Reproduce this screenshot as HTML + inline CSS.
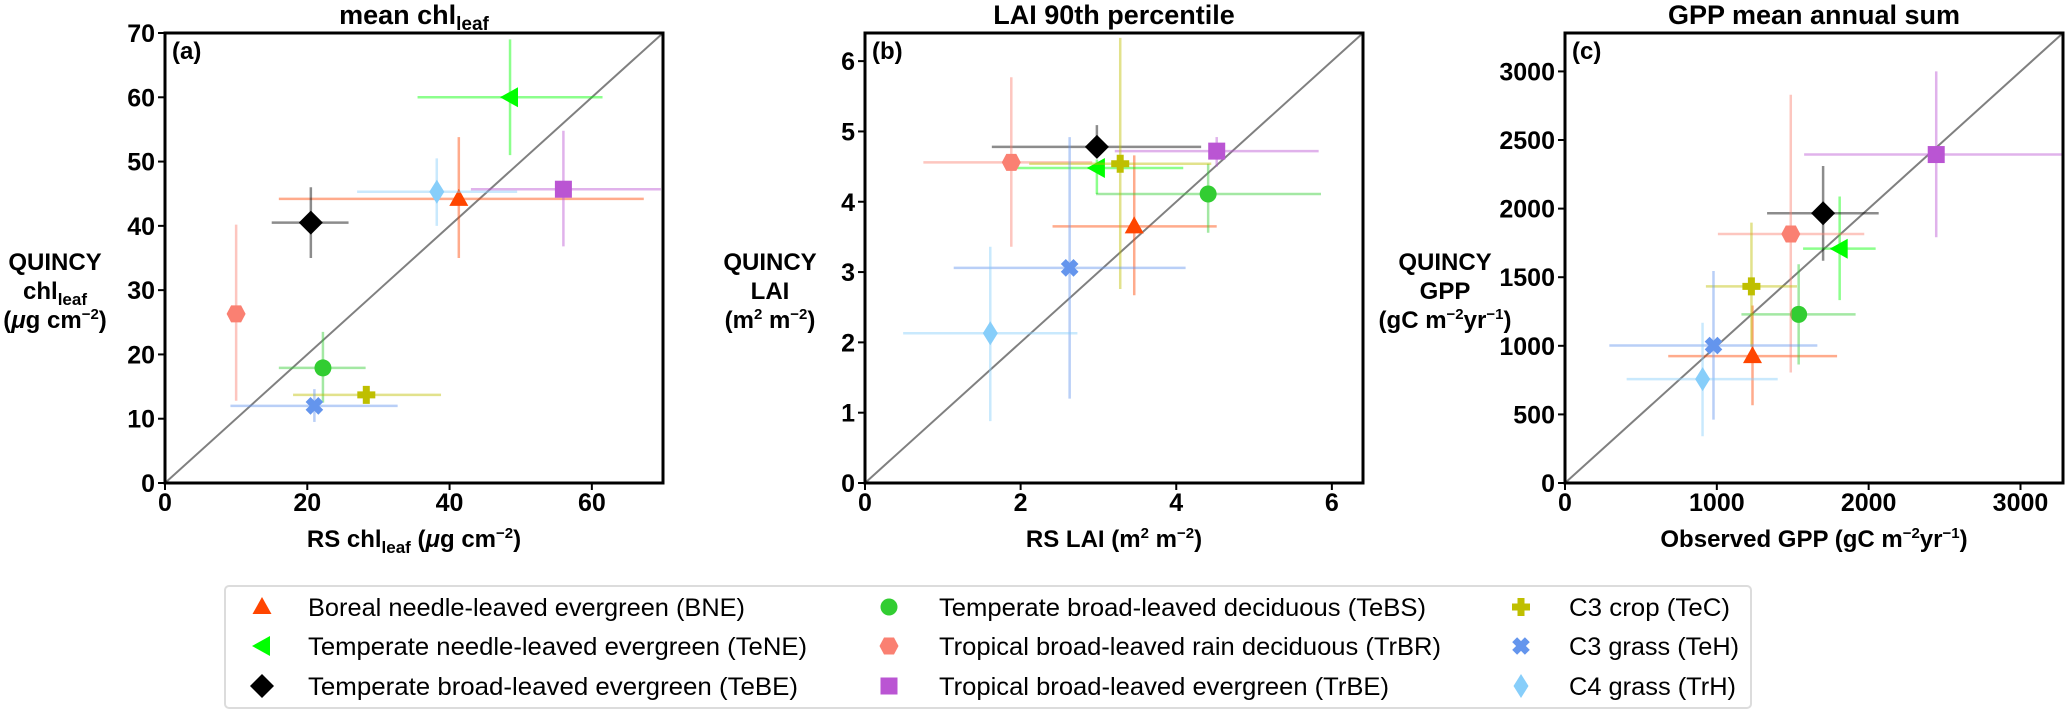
<!DOCTYPE html>
<html><head><meta charset="utf-8"><style>
html,body{margin:0;padding:0;background:#fff;}
svg{display:block;font-family:"Liberation Sans","DejaVu Sans",sans-serif;}
</style></head><body>
<svg id="fig" width="2067" height="711" viewBox="0 0 2067 711"></svg>
<script>
const NS='http://www.w3.org/2000/svg';
const fig=document.getElementById('fig');
// ---- data ----
const pfts=['BNE','TeNE','TeBE','TeBS','TrBR','TrBE','TeC','TeH','TrH'];
const pftLabels=['Boreal needle-leaved evergreen (BNE)','Temperate needle-leaved evergreen (TeNE)','Temperate broad-leaved evergreen (TeBE)','Temperate broad-leaved deciduous (TeBS)','Tropical broad-leaved rain deciduous (TrBR)','Tropical broad-leaved evergreen (TrBE)','C3 crop (TeC)','C3 grass (TeH)','C4 grass (TrH)'];
const colors=['#ff4500','#00ff00','#000000','#32cd32','#fa8072','#ba55d3','#bfbf00','#6495ed','#87cefa'];
const markers=['^','<','D','o','h','s','P','X','d'];
// panel a: chl
const chlX=[41.3,48.5,20.5,22.2,10.0,56.0,28.3,21.0,38.2];
const chlXlo=[16,35.5,15,16,10,43,18,9.2,27];
const chlXhi=[67.3,61.5,25.8,28.2,10,69.7,38.8,32.7,49.5];
const chlY=[44.2,60,40.5,17.9,26.3,45.7,13.7,12.0,45.3];
const chlYlo=[35,51,35,12.5,12.8,36.8,12.5,9.5,40];
const chlYhi=[53.8,69,46,23.5,40.2,54.8,14.9,14.6,50.5];
// panel b: LAI
const laiX=[3.46,2.98,2.98,4.41,1.88,4.52,3.28,2.63,1.61];
const laiXlo=[2.41,1.9,1.63,2.97,0.75,3.21,2.11,1.14,0.49];
const laiXhi=[4.52,4.09,4.32,5.86,2.92,5.83,4.45,4.12,2.73];
const laiY=[3.65,4.48,4.78,4.11,4.56,4.72,4.54,3.06,2.13];
const laiYlo=[2.67,4.11,4.63,3.56,3.36,4.5,2.76,1.2,0.88];
const laiYhi=[4.66,4.6,5.09,4.54,5.77,4.92,6.33,4.92,3.36];
// panel c: GPP
const gppX=[1235,1809,1700,1539,1487,2445,1228,978,906];
const gppXlo=[680,1568,1331,1162,1007,1575,928,292,406];
const gppXhi=[1792,2046,2066,1914,1971,3272,1528,1662,1401];
const gppY=[925,1708,1966,1229,1815,2394,1433,1002,757];
const gppYlo=[567,1333,1620,864,805,1791,993,462,341];
const gppYhi=[1294,2088,2311,1594,2830,3000,1898,1545,1168];
const chlTicks=[0,10,20,30,40,50,60,70], chlXTicks=[0,20,40,60];
const laiTicks=[0,1,2,3,4,5,6], laiXTicks=[0,2,4,6];
const gppTicks=[0,500,1000,1500,2000,2500,3000], gppXTicks=[0,1000,2000,3000];

function el(tag,attrs,parent){const e=document.createElementNS(NS,tag);for(const k in attrs)e.setAttribute(k,attrs[k]);(parent||fig).appendChild(e);return e;}

function marker(g,m,cx,cy,c){
  let e;const s=8.5;
  if(m==='o'){e=el('circle',{cx:cx,cy:cy,r:s,fill:c},g);}
  else if(m==='s'){e=el('rect',{x:cx-s,y:cy-s,width:2*s,height:2*s,fill:c},g);}
  else{
    let pts;
    if(m==='^')pts=[[0,-10],[9.5,7],[-9.5,7]];
    else if(m==='<')pts=[[-10,0],[8,-10],[8,10]];
    else if(m==='D')pts=[[0,-12],[12,0],[0,12],[-12,0]];
    else if(m==='d')pts=[[0,-12],[7.5,0],[0,12],[-7.5,0]];
    else if(m==='h')pts=[[-9.5,0],[-5,-8.5],[5,-8.5],[9.5,0],[5,8.5],[-5,8.5]];
    else if(m==='P'){const a=3.5,b=9;pts=[[-a,-b],[a,-b],[a,-a],[b,-a],[b,a],[a,a],[a,b],[-a,b],[-a,a],[-b,a],[-b,-a],[-a,-a]];}
    else if(m==='X'){const a=3.5,b=9;pts=[];const base=[[-a,-b],[a,-b],[a,-a],[b,-a],[b,a],[a,a],[a,b],[-a,b],[-a,a],[-b,a],[-b,-a],[-a,-a]];const r=Math.PI/4;for(const p of base)pts.push([p[0]*Math.cos(r)-p[1]*Math.sin(r),p[0]*Math.sin(r)+p[1]*Math.cos(r)]);}
    e=el('polygon',{points:pts.map(p=>(cx+p[0]).toFixed(1)+','+(cy+p[1]).toFixed(1)).join(' '),fill:c},g);
  }
  return e;
}

function panel(cfg){
  const L=cfg.x0,T=33,W=498,H=450,B=T+H;
  const sx=v=>L+v/cfg.max*W, sy=v=>B-v/cfg.max*H;
  const g=el('g',{});
  
  
  const d=el('line',{x1:sx(0),y1:sy(0),x2:sx(cfg.max),y2:sy(cfg.max),stroke:'#808080','stroke-width':2},g);
  
  
  for(let i=0;i<pfts.length;i++){
    const sg=el('g',{},g);
    
    
    el('line',{x1:sx(cfg.xlo[i]),x2:sx(cfg.xhi[i]),y1:sy(cfg.y[i]),y2:sy(cfg.y[i]),stroke:colors[i],'stroke-opacity':0.45,'stroke-width':2.5},sg);
    el('line',{x1:sx(cfg.x[i]),x2:sx(cfg.x[i]),y1:sy(cfg.ylo[i]),y2:sy(cfg.yhi[i]),stroke:colors[i],'stroke-opacity':0.45,'stroke-width':2.5},sg);
    marker(sg,markers[i],sx(cfg.x[i]),sy(cfg.y[i]),colors[i]);
  }
  const fr=el('rect',{x:L,y:T,width:W,height:H,fill:'none',stroke:'#000','stroke-width':3},g);
  
  
  for(const t of cfg.yt){
    el('line',{x1:L-7,x2:L,y1:sy(t),y2:sy(t),stroke:'#000','stroke-width':2},g);
    const tx=el('text',{x:L-10,y:sy(t)+9,'text-anchor':'end','font-size':25,'font-weight':'bold'},g);
    tx.textContent=t;
    
    
  }
  for(const t of cfg.xt){
    el('line',{x1:sx(t),x2:sx(t),y1:B,y2:B+7,stroke:'#000','stroke-width':2},g);
    const tx=el('text',{x:sx(t),y:B+28,'text-anchor':'middle','font-size':25,'font-weight':'bold'},g);
    tx.textContent=t;
    
    
  }
  const pl=el('text',{x:L+7,y:T+26,'font-size':24,'font-weight':'bold'},g);
  pl.textContent=cfg.tag;
  
  
  const ti=el('text',{x:L+W/2,y:24,'text-anchor':'middle','font-size':27,'font-weight':'bold'},g);
  ti.innerHTML=cfg.title;
  
  
  const xl=el('text',{x:L+W/2,y:547,'text-anchor':'middle','font-size':24,'font-weight':'bold'},g);
  xl.innerHTML=cfg.xlabel;
  
  
  const yl=el('text',{'text-anchor':'middle','font-size':24,'font-weight':'bold'},g);
  
  
  cfg.ylab.forEach((s,k)=>{const ts=el('tspan',{x:cfg.ylx,y:270+k*29},yl);ts.innerHTML=s;});
}

panel({name:'panel-a-chl',x0:165,max:70,x:chlX,xlo:chlXlo,xhi:chlXhi,y:chlY,ylo:chlYlo,yhi:chlYhi,yt:chlTicks,xt:chlXTicks,tag:'(a)',
  title:'mean chl<tspan font-size="19" dy="6">leaf</tspan>',
  xlabel:'RS chl<tspan font-size="17" dy="6">leaf</tspan><tspan dy="-6"> (</tspan><tspan font-style="italic">μ</tspan>g cm<tspan font-size="15" dy="-9">−2</tspan><tspan dy="9">)</tspan>',
  ylx:55,ylab:['QUINCY','chl<tspan font-size="17" dy="6">leaf</tspan>','(<tspan font-style="italic">μ</tspan>g cm<tspan font-size="15" dy="-9">−2</tspan><tspan dy="9">)</tspan>']});
panel({name:'panel-b-lai',x0:865,max:6.4,x:laiX,xlo:laiXlo,xhi:laiXhi,y:laiY,ylo:laiYlo,yhi:laiYhi,yt:laiTicks,xt:laiXTicks,tag:'(b)',
  title:'LAI 90th percentile',
  xlabel:'RS LAI (m<tspan font-size="15" dy="-9">2</tspan><tspan dy="9"> m</tspan><tspan font-size="15" dy="-9">−2</tspan><tspan dy="9">)</tspan>',
  ylx:770,ylab:['QUINCY','LAI','(m<tspan font-size="15" dy="-9">2</tspan><tspan dy="9"> m</tspan><tspan font-size="15" dy="-9">−2</tspan><tspan dy="9">)</tspan>']});
panel({name:'panel-c-gpp',x0:1565,max:3280,x:gppX,xlo:gppXlo,xhi:gppXhi,y:gppY,ylo:gppYlo,yhi:gppYhi,yt:gppTicks,xt:gppXTicks,tag:'(c)',
  title:'GPP mean annual sum',
  xlabel:'Observed GPP (gC m<tspan font-size="15" dy="-9">−2</tspan><tspan dy="9">yr</tspan><tspan font-size="15" dy="-9">−1</tspan><tspan dy="9">)</tspan>',
  ylx:1445,ylab:['QUINCY','GPP','(gC m<tspan font-size="15" dy="-9">−2</tspan><tspan dy="9">yr</tspan><tspan font-size="15" dy="-9">−1</tspan><tspan dy="9">)</tspan>']});

// legend
const lg=el('g',{});


el('rect',{x:225,y:586,width:1526,height:122,rx:4,fill:'#fff',stroke:'#dcdcdc','stroke-width':2},lg);
const colMX=[262,889,1521], colTX=[308,939,1569], rowY=[607,646,686];
const textW=[437,499,490,487,502,450,161,170,167];
for(let i=0;i<9;i++){
  const c=Math.floor(i/3), r=i%3;
  const eg=el('g',{},lg);
  
  
  marker(eg,markers[i],colMX[c],rowY[r],colors[i]);
  const t=el('text',{x:colTX[c],y:rowY[r]+9,'font-size':25,textLength:textW[i],lengthAdjust:'spacingAndGlyphs'},eg);
  t.textContent=pftLabels[i];
}
</script>
</body></html>
